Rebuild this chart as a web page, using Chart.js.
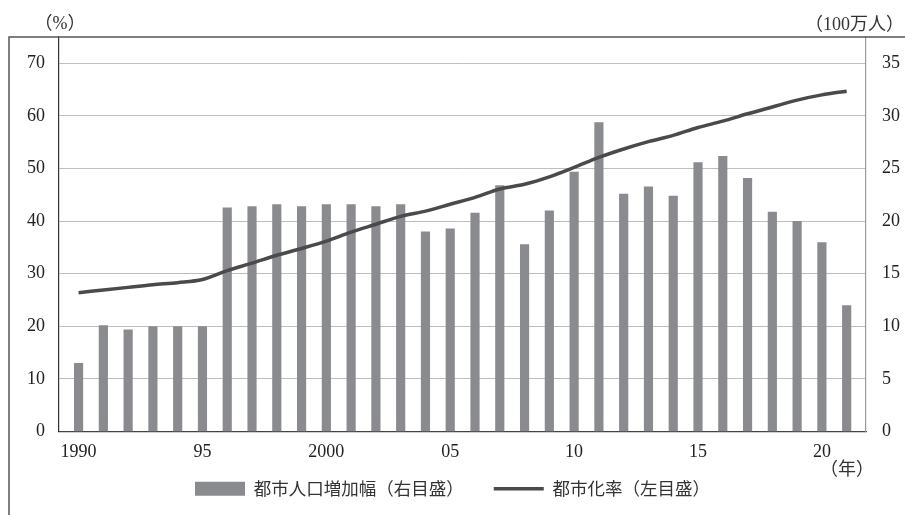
<!DOCTYPE html>
<html>
<head>
<meta charset="utf-8">
<script src="https://cdn.jsdelivr.net/npm/chart.js@4.4.0/dist/chart.umd.min.js"></script>
<style>
  body { margin: 0; background: #fff; }
  #wrap { width: 905px; height: 515px; position: relative; }
</style>
</head>
<body>
<div id="wrap"><canvas id="chart"></canvas></div>

<script>
// 都市人口増加幅（100万人）と都市化率（%）, 1990-2021
var years = [1990, 1991, 1992, 1993, 1994, 1995, 1996, 1997, 1998, 1999,
             2000, 2001, 2002, 2003, 2004, 2005, 2006, 2007, 2008, 2009,
             2010, 2011, 2012, 2013, 2014, 2015, 2016, 2017, 2018, 2019,
             2020, 2021];

var popIncrease = [6.5, 10.1, 9.7, 10.0, 10.0, 10.0, 21.3, 21.4, 21.6, 21.4,
                   21.6, 21.6, 21.4, 21.6, 19.0, 19.3, 20.8, 23.4, 17.8, 21.0,
                   24.7, 29.4, 22.6, 23.3, 22.4, 25.6, 26.2, 24.1, 20.9, 20.0,
                   18.0, 12.0];

var urbanRate = [26.4, 26.9, 27.4, 27.9, 28.3, 28.9, 30.6, 32.0, 33.5, 34.8,
                 36.2, 37.9, 39.4, 40.9, 41.9, 43.2, 44.5, 46.1, 47.0, 48.4,
                 50.2, 52.1, 53.7, 55.1, 56.3, 57.8, 59.0, 60.4, 61.7, 63.0,
                 64.0, 64.7];

var xTicks = [1990, 1995, 2000, 2005, 2010, 2015, 2020];
var leftTicks = [0, 10, 20, 30, 40, 50, 60, 70];
var rightTicks = [0, 5, 10, 15, 20, 25, 30, 35];

var seriesNames = ['都市人口増加幅（右目盛）', '都市化率（左目盛）'];

var serif = '"Liberation Serif", "Noto Sans CJK JP", serif';
var jp = '"Noto Sans CJK JP", sans-serif';

function pts(values) {
    return years.map(function (yr, i) { return {x: yr, y: values[i]}; });
}

function fixTicks(list) {
    return function (axis) {
        axis.ticks = list.map(function (v) { return {value: v}; });
    };
}

// outer frame and unit captions
var decorations = {
    id: 'decorations',
    afterLayout: function (chart) {
        // x labels hang below the (thin) x box, don't clip them
        chart.scales.x.bottom += 20;
    },
    afterDraw: function (chart) {
        var ctx = chart.ctx;
        var area = chart.chartArea;
        ctx.save();
        ctx.strokeStyle = '#555';
        ctx.lineWidth = 1.5;
        ctx.beginPath();
        ctx.moveTo(9, chart.height);
        ctx.lineTo(9, area.top);
        ctx.lineTo(chart.width, area.top);
        ctx.stroke();

        ctx.fillStyle = '#333';
        ctx.font = '18px ' + serif;
        ctx.textBaseline = 'middle';
        ctx.textAlign = 'center';
        ctx.fillText('（%）', 60, 24);
        ctx.textAlign = 'right';
        ctx.fillText('（100万人）', 904, 25);
        ctx.textAlign = 'center';
        ctx.fillText('（年）', 847, 470);
        ctx.restore();
    }
};

var ctx = document.getElementById('chart').getContext('2d');
new Chart(ctx, {
    type: 'bar',
    data: {
        datasets: [
            {
                type: 'bar',
                label: seriesNames[0],
                data: pts(popIncrease),
                yAxisID: 'y1',
                backgroundColor: '#8a8b8f',
                borderWidth: 0,
                barPercentage: 0.37,
                categoryPercentage: 1,
                order: 1
            },
            {
                type: 'line',
                label: seriesNames[1],
                data: pts(urbanRate),
                yAxisID: 'y',
                borderColor: '#4a4a4c',
                backgroundColor: '#4a4a4c',
                borderWidth: 3.5,
                pointRadius: 0,
                cubicInterpolationMode: 'monotone',
                fill: false,
                order: 0
            }
        ]
    },
    options: {
        responsive: true,
        maintainAspectRatio: false,
        animation: false,
        layout: { padding: { top: 37, bottom: 7.5, left: 0, right: 0 } },
        plugins: {
            tooltip: { enabled: false },
            legend: {
                position: 'bottom',
                labels: {
                    usePointStyle: true,
                    pointStyleWidth: 50,
                    boxHeight: 14,
                    padding: 30,
                    color: '#333',
                    font: { family: jp, size: 17.5 },
                    generateLabels: function (chart) {
                        var items = Chart.defaults.plugins.legend.labels.generateLabels(chart);
                        items.sort(function (a, b) { return a.datasetIndex - b.datasetIndex; });
                        items[0].pointStyle = 'rect';
                        items[1].pointStyle = 'line';
                        return items;
                    }
                }
            }
        },
        scales: {
            x: {
                type: 'linear',
                min: 1989.21,
                max: 2021.78,
                offset: false,
                grid: { display: false, drawTicks: false },
                border: { display: true, color: '#444', width: 1.2 },
                afterBuildTicks: fixTicks(xTicks),
                afterFit: function (s) { s.height = 18.5; },
                ticks: {
                    autoSkip: false,
                    maxRotation: 0,
                    padding: 10,
                    color: '#222',
                    font: { family: serif, size: 18 },
                    callback: function (v) {
                        return (v === 1990 || v === 2000) ? String(v) : String(v).slice(2);
                    }
                }
            },
            y: {
                position: 'left',
                min: 0,
                max: 75,
                grid: { color: '#bdbdbd', lineWidth: 1, drawTicks: false },
                border: { display: true, color: '#333', width: 1.2 },
                afterBuildTicks: fixTicks(leftTicks),
                afterFit: function (s) { s.width = 59; },
                ticks: {
                    padding: 14,
                    color: '#222',
                    font: { family: serif, size: 18 }
                }
            },
            y1: {
                position: 'right',
                min: 0,
                max: 37.5,
                grid: { display: false, drawTicks: false },
                border: { display: true, color: '#999', width: 1.2 },
                afterBuildTicks: fixTicks(rightTicks),
                afterFit: function (s) { s.width = 39; },
                ticks: {
                    padding: 16,
                    color: '#222',
                    font: { family: serif, size: 18 }
                }
            }
        }
    },
    plugins: [decorations]
});
</script>
</body>
</html>
